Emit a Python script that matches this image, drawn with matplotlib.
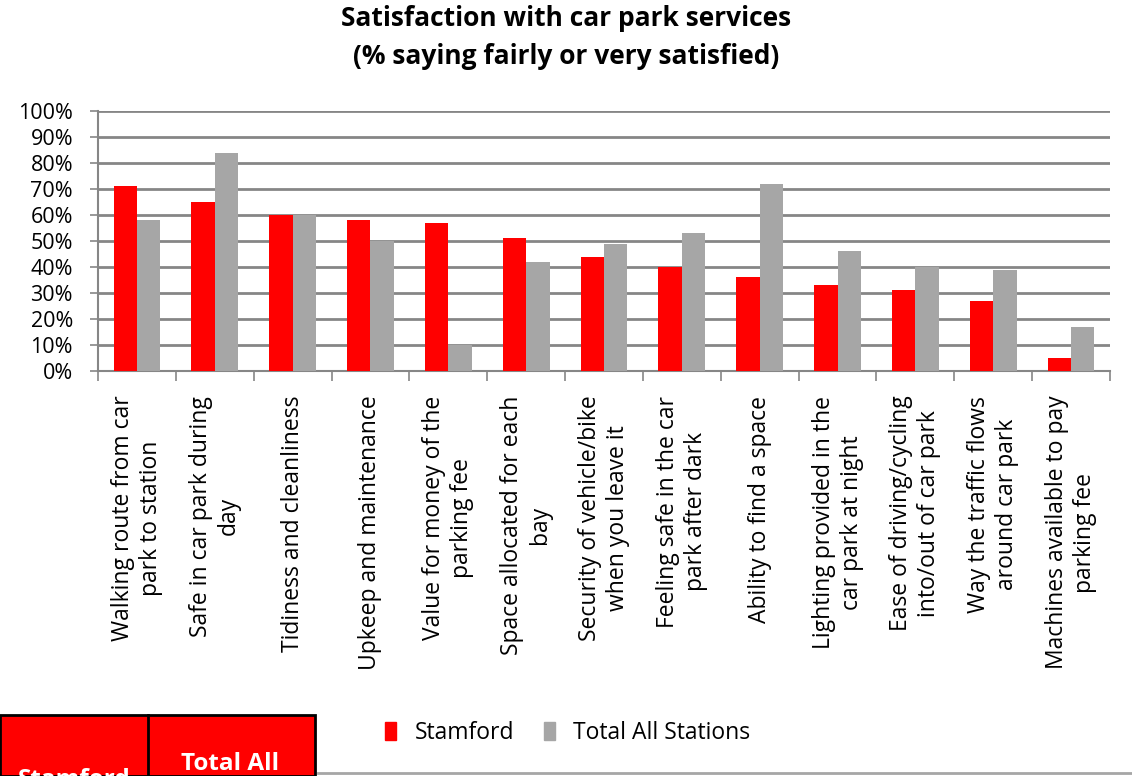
import numpy as np
import matplotlib.pyplot as plt
from matplotlib.patches import Rectangle
from matplotlib.lines import Line2D

plt.rcParams['font.family'] = ['Open Sans', 'DejaVu Sans']

categories = [
    "Walking route from car\npark to station",
    "Safe in car park during\nday",
    "Tidiness and cleanliness",
    "Upkeep and maintenance",
    "Value for money of the\nparking fee",
    "Space allocated for each\nbay",
    "Security of vehicle/bike\nwhen you leave it",
    "Feeling safe in the car\npark after dark",
    "Ability to find a space",
    "Lighting provided in the\ncar park at night",
    "Ease of driving/cycling\ninto/out of car park",
    "Way the traffic flows\naround car park",
    "Machines available to pay\nparking fee",
]
stamford = [71, 65, 60, 58, 57, 51, 44, 40, 36, 33, 31, 27, 5]
total_all = [58, 84, 60, 50, 10, 42, 49, 53, 72, 46, 40, 39, 17]
series_names = ["Stamford", "Total All Stations"]
yticks = list(range(0, 101, 10))

red = "#ff0000"
grey = "#a6a6a6"
axis_grey = "#868686"

fig = plt.figure(figsize=(11.32, 7.76), dpi=100)
ax = fig.add_axes([98 / 1132, 1 - 371 / 776, (1110 - 98) / 1132, 260 / 776])

x = np.arange(len(categories))
w = 0.3
ax.bar(x - w / 2, stamford, w, color=red, zorder=3, label=series_names[0])
ax.bar(x + w / 2, total_all, w, color=grey, zorder=3, label=series_names[1])

ax.set_xlim(-0.5, len(categories) - 0.5)
ax.set_ylim(0, 100)
ax.set_yticks(yticks)
ax.set_yticklabels([f"{t}%" for t in yticks], fontsize=15.5)
ax.yaxis.grid(True, color=axis_grey, linewidth=2, zorder=0)
ax.tick_params(axis='y', length=6, width=1.2, color=axis_grey, pad=12)

# category boundaries as outward ticks
ax.set_xticks(np.arange(-0.5, len(categories), 1.0))
ax.set_xticklabels([])
ax.tick_params(axis='x', length=7, width=1.2, color=axis_grey)
for i, lab in enumerate(categories):
    ax.text(i, -9.5, lab, rotation=90, ha='center', va='top',
            multialignment='center', fontsize=16.5, linespacing=1.22,
            transform=ax.transData, clip_on=False)

for s in ['top', 'right']:
    ax.spines[s].set_visible(False)
ax.spines['left'].set_color(axis_grey)
ax.spines['bottom'].set_color(axis_grey)
ax.spines['left'].set_linewidth(1.5)
ax.spines['bottom'].set_linewidth(1.5)

fig.text(0.5, 1 - 18 / 776, "Satisfaction with car park services", ha='center',
         va='center', fontsize=19, fontweight='bold')
fig.text(0.5, 1 - 57 / 776, "(% saying fairly or very satisfied)", ha='center',
         va='center', fontsize=19, fontweight='bold')

# legend
handles = [Rectangle((0, 0), 1, 1, color=red), Rectangle((0, 0), 1, 1, color=grey)]
fig.legend(handles, series_names, loc='center left', bbox_to_anchor=(364 / 1132, 1 - 733 / 776),
           ncol=2, frameon=False, fontsize=16.5, handlelength=0.5, handleheight=0.8,
           columnspacing=1.3, handletextpad=0.8)

# data table header (cut off at bottom)
fig.patches.append(Rectangle((0, 0), 315 / 1132, 61 / 776, transform=fig.transFigure,
                             facecolor=red, edgecolor='black', linewidth=2))
fig.add_artist(Line2D([148 / 1132, 148 / 1132], [0, 61 / 776], color='black', linewidth=2,
                      transform=fig.transFigure))
fig.add_artist(Line2D([318 / 1132, 1], [3 / 776, 3 / 776], color="#a6a6a6", linewidth=2,
                      transform=fig.transFigure))
fig.text(74 / 1132, 1 - 780 / 776, "Stamford", ha='center', va='center', color='white',
         fontsize=17.5, fontweight='bold')
fig.text(230 / 1132, 1 - 764 / 776, "Total All", ha='center', va='center', color='white',
         fontsize=17.5, fontweight='bold')

fig.savefig("out.png", dpi=100)
